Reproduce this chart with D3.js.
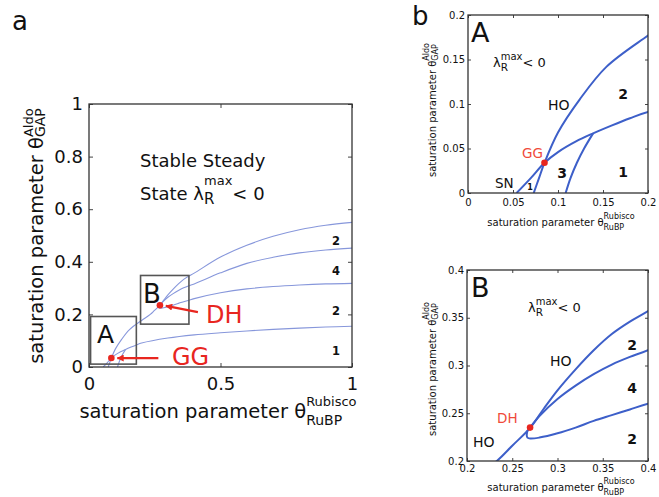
<!DOCTYPE html>
<html>
<head>
<meta charset="utf-8">
<script src="https://cdn.jsdelivr.net/npm/d3@7"></script>
<style>
  body { margin: 0; background: #fff; }
  svg { display: block; font-family: "DejaVu Sans", "Liberation Sans", Arial, sans-serif; }
</style>
</head>
<body>
<script>
// Bifurcation curves, (theta RuBP, theta GAP) pairs
const hoCurve = [[0.073,0],[0.079,0.017],[0.085,0.034],[0.1,0.068],[0.124,0.105],[0.154,0.142],[0.2,0.177],
  [0.233,0.2],[0.25,0.216],[0.27,0.235],[0.285,0.255],[0.3,0.274],[0.32,0.296],[0.34,0.316],[0.36,0.333],
  [0.38,0.346],[0.4,0.357],[0.5,0.418],[0.6,0.463],[0.7,0.497],[0.8,0.522],[0.9,0.539],[1,0.55]];
const snCurve = [[0.054,0],[0.07,0.017],[0.085,0.034],[0.1,0.046],[0.12,0.058],[0.139,0.067],[0.16,0.076],
  [0.18,0.084],[0.2,0.091],[0.3,0.11],[0.4,0.122],[0.5,0.13],[0.6,0.137],[0.7,0.143],[0.8,0.148],[0.9,0.152],[1,0.155]];
const foldCurve = [[0.1085,0],[0.114,0.017],[0.121,0.034],[0.129,0.05],[0.139,0.067]];
const branchMid = [[0.2697,0.235],[0.28,0.247],[0.3,0.265],[0.32,0.279],[0.34,0.291],[0.36,0.301],[0.38,0.309],
  [0.4,0.316],[0.5,0.358],[0.6,0.394],[0.7,0.417],[0.8,0.434],[0.9,0.445],[1,0.452]];
const branchLow = [[0.2668,0.232],[0.266,0.227],[0.2668,0.2245],[0.27,0.2235],[0.28,0.2245],[0.3,0.229],[0.32,0.235],
  [0.34,0.242],[0.36,0.248],[0.38,0.254],[0.4,0.26],[0.5,0.282],[0.6,0.297],[0.7,0.306],[0.8,0.312],[0.9,0.316],[1,0.318]];
const curves = [hoCurve, snCurve, foldCurve, branchMid, branchLow];

const ggPoint = [0.085, 0.034];
const dhPoint = [0.2697, 0.235];

// zoom boxes drawn on panel a
const boxA = [[0.006, 0.011], [0.18, 0.192]];
const boxB = [[0.196, 0.163], [0.38, 0.348]];

const ticksA = [0, 0.05, 0.1, 0.15, 0.2];
const ticksB = [0.2, 0.25, 0.3, 0.35, 0.4];
const xTicksMain = [0, 0.5, 1];
const yTicksMain = [0, 0.2, 0.4, 0.6, 0.8, 1];

const width = 659, height = 497;
const svg = d3.select("body").append("svg").attr("width", width).attr("height", height);

// text with stacked super/subscripts, parts: strings or {sup, sub}
function rich(parent, x, y, parts, size, o = {}) {
  const g = parent.append("g").attr("transform", `translate(${x},${y})`)
    .attr("fill", o.fill || "#111").attr("font-weight", o.weight || "normal");
  let cx = 0;
  parts.forEach(p => {
    if (typeof p === "string") {
      const t = g.append("text").attr("x", cx).attr("font-size", size).text(p);
      cx += t.node().getComputedTextLength();
    } else {
      const a = g.append("text").attr("x", cx).attr("y", p.supY).attr("font-size", p.supSize).text(p.sup);
      const b = g.append("text").attr("x", cx).attr("y", p.subY).attr("font-size", p.subSize).text(p.sub);
      cx += Math.max(a.node().getComputedTextLength(), b.node().getComputedTextLength());
    }
  });
  if (o.anchor === "middle") g.selectAll("text").attr("x", function () { return +this.getAttribute("x") - cx / 2; });
  return g;
}

function panel(cfg) {
  const x = d3.scaleLinear().domain(cfg.xd).range([cfg.left, cfg.right]);
  const y = d3.scaleLinear().domain(cfg.yd).range([cfg.bottom, cfg.top]);
  const g = svg.append("g");
  const fmt = d => String(+d.toFixed(3));

  g.append("rect").attr("x", cfg.left).attr("y", cfg.top)
    .attr("width", cfg.right - cfg.left).attr("height", cfg.bottom - cfg.top)
    .attr("fill", "#fff");

  const clipId = "clip" + cfg.id;
  svg.append("clipPath").attr("id", clipId).append("rect")
    .attr("x", cfg.left).attr("y", cfg.top)
    .attr("width", cfg.right - cfg.left).attr("height", cfg.bottom - cfg.top);

  const line = d3.line().x(d => x(d[0])).y(d => y(d[1])).curve(d3.curveCatmullRom.alpha(0.5));
  g.append("g").attr("clip-path", `url(#${clipId})`)
    .selectAll("path").data(curves).join("path")
    .attr("d", line).attr("fill", "none")
    .attr("stroke", cfg.lineColor).attr("stroke-width", cfg.lineWidth)
    .attr("stroke-linejoin", "round");

  const ts = cfg.tickLen;
  const axes = [
    [d3.axisBottom(x).tickValues(cfg.xt).tickFormat(fmt).tickPadding(cfg.xPad), `translate(0,${cfg.bottom})`],
    [d3.axisTop(x).tickValues(cfg.xt).tickFormat(""), `translate(0,${cfg.top})`],
    [d3.axisLeft(y).tickValues(cfg.yt).tickFormat(fmt).tickPadding(cfg.yPad), `translate(${cfg.left},0)`],
    [d3.axisRight(y).tickValues(cfg.yt).tickFormat(""), `translate(${cfg.right},0)`]
  ];
  axes.forEach(([ax, tr]) => {
    const a = g.append("g").attr("transform", tr).call(ax.tickSizeInner(-ts).tickSizeOuter(0));
    a.select(".domain").remove();
    a.selectAll("line").attr("stroke", "#444");
    a.selectAll("text").attr("font-size", cfg.tickFont).attr("fill", "#111")
      .attr("font-family", "DejaVu Sans, Liberation Sans, Arial, sans-serif");
  });

  g.append("rect").attr("x", cfg.left).attr("y", cfg.top)
    .attr("width", cfg.right - cfg.left).attr("height", cfg.bottom - cfg.top)
    .attr("fill", "none").attr("stroke", "#333").attr("stroke-width", cfg.boxWidth);

  return { g, x, y };
}

// ---------- panel a ----------
const pa = panel({ id: "a", left: 89, right: 352, top: 104, bottom: 367, xd: [0, 1], yd: [0, 1],
  xt: xTicksMain, yt: yTicksMain, tickLen: 4, tickFont: 18, xPad: 10, yPad: 6,
  lineColor: "#8797db", lineWidth: 1.1, boxWidth: 1.3 });

[boxA, boxB].forEach(b => {
  pa.g.append("rect")
    .attr("x", pa.x(b[0][0])).attr("y", pa.y(b[1][1]))
    .attr("width", pa.x(b[1][0]) - pa.x(b[0][0]))
    .attr("height", pa.y(b[0][1]) - pa.y(b[1][1]))
    .attr("fill", "none").attr("stroke", "#555").attr("stroke-width", 1.6);
});

svg.append("defs").append("marker").attr("id", "arrow")
  .attr("viewBox", "0 0 10 10").attr("refX", 9).attr("refY", 5)
  .attr("markerWidth", 3.2).attr("markerHeight", 3.2).attr("orient", "auto")
  .append("path").attr("d", "M0,0L10,5L0,10Z").attr("fill", "#e8261f");

[[ggPoint, 41, 0, 6], [dhPoint, 32, 7, 6]].forEach(([p, dx, dy, gap]) => {
  const px = pa.x(p[0]), py = pa.y(p[1]);
  pa.g.append("line").attr("x1", px + gap + dx).attr("y1", py + dy)
    .attr("x2", px + gap).attr("y2", py + dy * 0.1)
    .attr("stroke", "#e8261f").attr("stroke-width", 2.2).attr("marker-end", "url(#arrow)");
});
pa.g.selectAll("circle").data([ggPoint, dhPoint]).join("circle")
  .attr("cx", d => pa.x(d[0])).attr("cy", d => pa.y(d[1])).attr("r", 3.3).attr("fill", "#e8261f");

pa.g.append("text").attr("x", 140).attr("y", 167).attr("font-size", 18).attr("fill", "#111").text("Stable Steady");
rich(pa.g, 140, 200, ["State λ", { sup: "max", sub: "R", supY: -15, subY: 4, supSize: 13, subSize: 15 }, " < 0"], 18);
pa.g.append("text").attr("x", 97).attr("y", 343).attr("font-size", 25).attr("fill", "#111").text("A");
pa.g.append("text").attr("x", 143).attr("y", 303).attr("font-size", 26).attr("fill", "#111").text("B");
pa.g.append("text").attr("x", 206).attr("y", 323).attr("font-size", 24).attr("fill", "#e8261f").text("DH");
pa.g.append("text").attr("x", 172).attr("y", 365).attr("font-size", 24).attr("fill", "#e8261f").text("GG");
[["2", 245], ["4", 275], ["2", 315], ["1", 355]].forEach(([t, yy]) => {
  pa.g.append("text").attr("x", 336).attr("y", yy).attr("text-anchor", "middle")
    .attr("font-size", 11.5).attr("font-weight", "bold").attr("fill", "#111").text(t);
});

rich(svg, 218, 418, ["saturation parameter θ", { sup: "Rubisco", sub: "RuBP", supY: -12, subY: 7, supSize: 13, subSize: 14 }], 19.5, { anchor: "middle" });
rich(svg.append("g").attr("transform", "translate(43,236) rotate(-90)"), 0, 0,
  ["saturation parameter θ", { sup: "Aldo", sub: "GAP", supY: -10, subY: 2, supSize: 13, subSize: 14 }], 19.5, { anchor: "middle" });

svg.append("text").attr("x", 12).attr("y", 30).attr("font-size", 26).attr("fill", "#111").text("a");
svg.append("text").attr("x", 412).attr("y", 25).attr("font-size", 26).attr("fill", "#111").text("b");

// ---------- panel b, zoom A ----------
const pA = panel({ id: "A", left: 468, right: 648, top: 15, bottom: 193, xd: [0, 0.2], yd: [0, 0.2],
  xt: ticksA, yt: ticksA, tickLen: 3, tickFont: 10, xPad: 6, yPad: 3,
  lineColor: "#3d5fc9", lineWidth: 2, boxWidth: 1.3 });
pA.g.append("circle").attr("cx", pA.x(ggPoint[0])).attr("cy", pA.y(ggPoint[1])).attr("r", 3.3).attr("fill", "#e8261f");
pA.g.append("text").attr("x", 471).attr("y", 42).attr("font-size", 27).attr("fill", "#111").text("A");
rich(pA.g, 493, 67, ["λ", { sup: "max", sub: "R", supY: -7, subY: 4, supSize: 10, subSize: 10.5 }, " < 0"], 13);
const smallA = [["HO", 548, 110, 14, "normal", "start", "#111"], ["2", 623, 99, 14, "bold", "middle", "#111"],
  ["GG", 522, 158, 13.5, "normal", "start", "#f04a3a"], ["3", 562, 178, 14, "bold", "middle", "#111"],
  ["1", 623, 177, 14, "bold", "middle", "#111"], ["SN", 495, 188, 13.5, "normal", "start", "#111"],
  ["1", 530, 190, 8, "bold", "middle", "#111"]];
smallA.forEach(([t, xx, yy, fs, fw, an, c]) => {
  pA.g.append("text").attr("x", xx).attr("y", yy).attr("font-size", fs).attr("font-weight", fw)
    .attr("text-anchor", an).attr("fill", c).text(t);
});
rich(svg, 561, 226, ["saturation parameter θ", { sup: "Rubisco", sub: "RuBP", supY: -7, subY: 3.5, supSize: 8, subSize: 8 }], 10, { anchor: "middle" });
rich(svg.append("g").attr("transform", "translate(436,110) rotate(-90)"), 0, 0,
  ["saturation parameter θ", { sup: "Aldo", sub: "GAP", supY: -7, subY: 2, supSize: 8, subSize: 8 }], 10, { anchor: "middle" });

// ---------- panel b, zoom B ----------
const pB = panel({ id: "B", left: 467, right: 648, top: 270, bottom: 461, xd: [0.2, 0.4], yd: [0.2, 0.4],
  xt: ticksB, yt: ticksB, tickLen: 3, tickFont: 10, xPad: 4, yPad: 3,
  lineColor: "#3d5fc9", lineWidth: 2, boxWidth: 1.3 });
pB.g.append("circle").attr("cx", pB.x(dhPoint[0])).attr("cy", pB.y(dhPoint[1])).attr("r", 3.3).attr("fill", "#e8261f");
pB.g.append("text").attr("x", 471).attr("y", 297).attr("font-size", 27).attr("fill", "#111").text("B");
rich(pB.g, 528, 312, ["λ", { sup: "max", sub: "R", supY: -7, subY: 4, supSize: 10, subSize: 10.5 }, " < 0"], 13);
const smallB = [["HO", 550, 366, 14, "normal", "start", "#111"], ["2", 632, 350, 14, "bold", "middle", "#111"],
  ["4", 632, 393, 14, "bold", "middle", "#111"], ["DH", 497, 423, 13.5, "normal", "start", "#f04a3a"],
  ["HO", 473, 447, 14, "normal", "start", "#111"], ["2", 632, 444, 14, "bold", "middle", "#111"]];
smallB.forEach(([t, xx, yy, fs, fw, an, c]) => {
  pB.g.append("text").attr("x", xx).attr("y", yy).attr("font-size", fs).attr("font-weight", fw)
    .attr("text-anchor", an).attr("fill", c).text(t);
});
rich(svg, 561, 491, ["saturation parameter θ", { sup: "Rubisco", sub: "RuBP", supY: -7, subY: 3.5, supSize: 8, subSize: 8 }], 10, { anchor: "middle" });
rich(svg.append("g").attr("transform", "translate(436,369) rotate(-90)"), 0, 0,
  ["saturation parameter θ", { sup: "Aldo", sub: "GAP", supY: -7, subY: 2, supSize: 8, subSize: 8 }], 10, { anchor: "middle" });
</script>
</body>
</html>
